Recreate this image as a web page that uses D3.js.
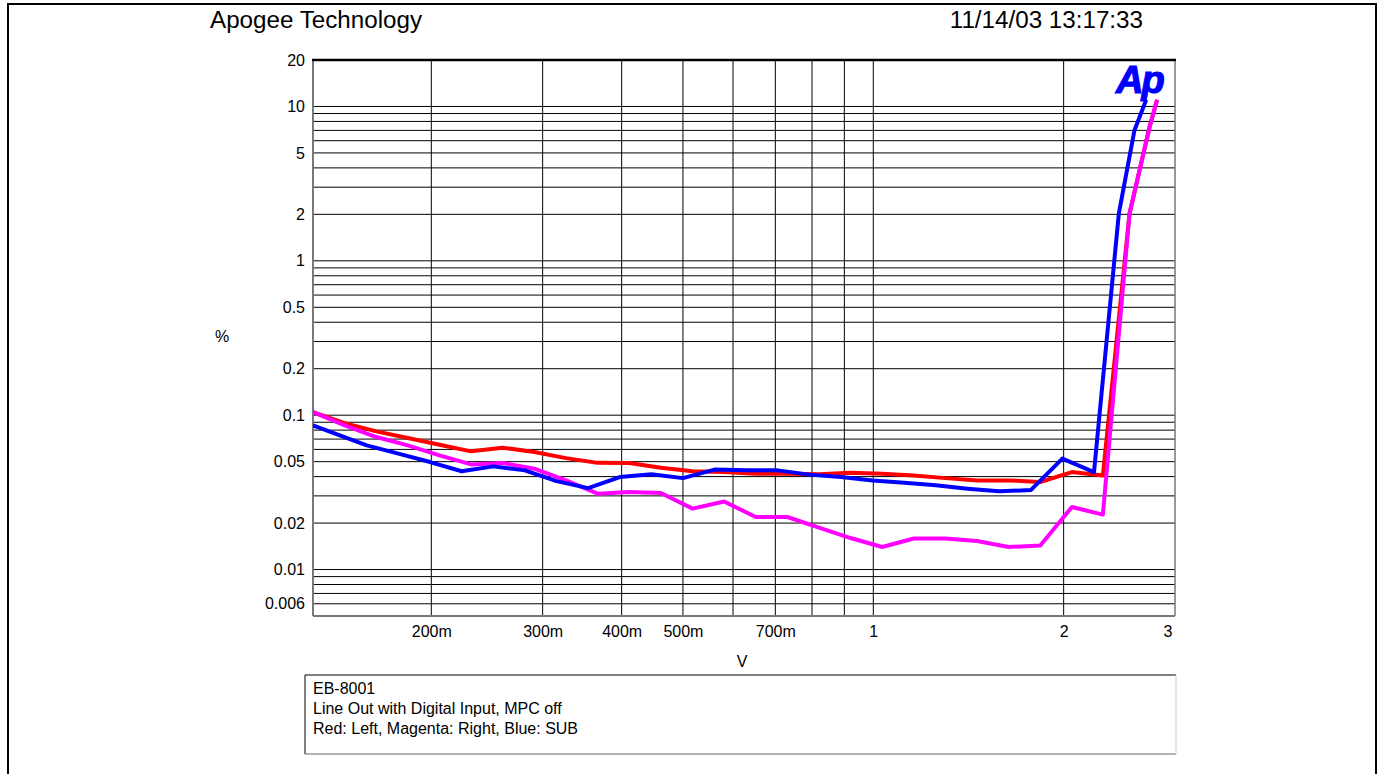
<!DOCTYPE html>
<html><head><meta charset="utf-8">
<script src="https://cdn.jsdelivr.net/npm/d3@7"></script>
<style>
html,body{margin:0;padding:0;background:#fff;}
svg text{font-family:"Liberation Sans",Arial,sans-serif;fill:#000;}
</style></head>
<body>
<svg id="chart" width="1382" height="774"></svg>
<script>
// ---- data ----
const voltsLR = [0.1300,0.1459,0.1637,0.1836,0.2060,0.2312,0.2594,0.2911,0.3266,0.3665,0.4112,0.4614,0.5177,0.5809,0.6518,0.7313,0.8206,0.9207,1.033,1.159,1.301,1.459,1.637,1.837,2.061,2.307,2.542,2.734,2.811];
const leftPct = [0.1047,0.0889,0.0785,0.0711,0.0644,0.0583,0.0616,0.0577,0.0527,0.0491,0.0490,0.0457,0.0433,0.0428,0.0418,0.0418,0.0414,0.0424,0.0418,0.0407,0.0391,0.0378,0.0378,0.0369,0.0428,0.0407,2.02,7.34,11.05];
const rightPct = [0.1047,0.0859,0.0722,0.0637,0.0549,0.0480,0.0490,0.0450,0.0378,0.0310,0.0318,0.0313,0.0248,0.0276,0.0219,0.0219,0.0187,0.0160,0.0140,0.0159,0.0159,0.0153,0.0140,0.0143,0.0254,0.0227,2.02,7.34,11.05];
const voltsSub = [0.1300,0.1409,0.1581,0.1774,0.1991,0.2234,0.2506,0.2812,0.3155,0.3540,0.3972,0.4457,0.5000,0.5610,0.6295,0.7063,0.7925,0.8892,0.9977,1.1195,1.2561,1.4093,1.5813,1.7743,1.9908,2.2337,2.445,2.588,2.701];
const subPct = [0.0859,0.0759,0.0637,0.0563,0.0497,0.0433,0.0466,0.0439,0.0374,0.0337,0.0397,0.0414,0.0391,0.0444,0.0439,0.0439,0.0412,0.0397,0.0378,0.0365,0.0351,0.0334,0.0321,0.0327,0.0523,0.0428,2.02,6.99,11.05];

const xTickValues = [0.2,0.3,0.4,0.5,0.7,1,2,3];
const xTickLabels = ["200m","300m","400m","500m","700m","1","2","3"];
const xGridValues = [0.2,0.3,0.4,0.5,0.6,0.7,0.8,0.9,1,2];
const yTickValues = [20,10,5,2,1,0.5,0.2,0.1,0.05,0.02,0.01,0.006];
const yTickLabels = ["20","10","5","2","1","0.5","0.2","0.1","0.05","0.02","0.01","0.006"];
const yGridValues = [0.006,0.007,0.008,0.009,0.01,0.02,0.03,0.04,0.05,0.06,0.07,0.08,0.09,0.1,0.2,0.3,0.4,0.5,0.6,0.7,0.8,0.9,1,2,3,4,5,6,7,8,9,10];

const title = "Apogee Technology";
const stamp = "11/14/03 13:17:33";
const xLabel = "V";
const yLabel = "%";
const legendLines = ["EB-8001","Line Out with Digital Input, MPC off","Red: Left, Magenta: Right, Blue: SUB"];

// ---- layout ----
const L = 313, R = 1175, T = 60, B = 616;
const FS = "16px";
const svg = d3.select("#chart");

svg.append("rect").attr("x",8).attr("y",4).attr("width",1368).attr("height",800)
  .attr("fill","none").attr("stroke","#000").attr("stroke-width",2);

svg.append("text").attr("x",210).attr("y",28).attr("font-size","24.2px").text(title);
svg.append("text").attr("x",1143).attr("y",28).attr("font-size","24.2px").attr("text-anchor","end").text(stamp);

const x = d3.scaleLog().domain([0.13,3]).range([L,R]);
const y = d3.scaleLog().domain([0.005,20]).range([B,T]);

// grid
const grid = svg.append("g");
grid.selectAll("line.h").data(yGridValues).join("line")
  .attr("x1",L).attr("x2",R).attr("y1",d=>y(d)).attr("y2",d=>y(d))
  .attr("stroke","#000").attr("stroke-width",1);
grid.selectAll("line.v").data(xGridValues).join("line")
  .attr("y1",T).attr("y2",B).attr("x1",d=>x(d)).attr("x2",d=>x(d))
  .attr("stroke","#000").attr("stroke-width",1);

// frame
svg.append("line").attr("x1",L).attr("x2",L).attr("y1",T).attr("y2",B).attr("stroke","#777").attr("stroke-width",2);
svg.append("line").attr("x1",L).attr("x2",R).attr("y1",B).attr("y2",B).attr("stroke","#777").attr("stroke-width",2);
svg.append("line").attr("x1",R).attr("x2",R).attr("y1",T).attr("y2",B).attr("stroke","#777").attr("stroke-width",1.5);
svg.append("line").attr("x1",L-1).attr("x2",R+1).attr("y1",T).attr("y2",T).attr("stroke","#000").attr("stroke-width",2.5);

// axes (labels only)
const xAxis = d3.axisBottom(x).tickValues(xTickValues)
  .tickFormat((d,i)=>xTickLabels[i]).tickSize(0).tickPadding(10);
const gx = svg.append("g").attr("transform",`translate(0,${B})`).call(xAxis);
gx.select(".domain").remove();
gx.selectAll("text").attr("font-size",FS).attr("font-family","Liberation Sans, Arial, sans-serif").attr("fill","#000");
gx.selectAll(".tick").filter(d=>d===3).select("text").attr("text-anchor","end").attr("dx","-3px");

const yAxis = d3.axisLeft(y).tickValues(yTickValues)
  .tickFormat((d,i)=>yTickLabels[i]).tickSize(0).tickPadding(8);
const gy = svg.append("g").attr("transform",`translate(${L},0)`).call(yAxis);
gy.select(".domain").remove();
gy.selectAll("text").attr("font-size",FS).attr("font-family","Liberation Sans, Arial, sans-serif").attr("fill","#000");

svg.append("text").attr("x",742).attr("y",667).attr("font-size",FS).attr("text-anchor","middle").text(xLabel);
svg.append("text").attr("x",222).attr("y",342).attr("font-size",FS).attr("text-anchor","middle").text(yLabel);

// data lines
const line = d3.line().x(d=>x(d[0])).y(d=>y(d[1]));
const series = [
  {v: voltsLR, p: leftPct, c: "#ff0000"},
  {v: voltsLR, p: rightPct, c: "#ff00ff"},
  {v: voltsSub, p: subPct, c: "#0000ff"}
];
svg.append("defs").append("clipPath").attr("id","clip").append("rect")
  .attr("x",L).attr("y",T).attr("width",R-L).attr("height",B-T);
const lg = svg.append("g").attr("clip-path","url(#clip)");
series.forEach(s=>{
  lg.append("path").datum(s.v.map((v,i)=>[v,s.p[i]]))
    .attr("d",line).attr("fill","none").attr("stroke",s.c)
    .attr("stroke-width",4).attr("stroke-linejoin","round");
});

// Ap logo
svg.append("text").attr("x",1116).attr("y",93).attr("font-size","38px").attr("font-weight","bold")
  .attr("font-style","italic").attr("letter-spacing","-2px")
  .attr("stroke","#0000ff").attr("stroke-width",1.2)
  .style("fill","#0000ff").text("Ap");

// legend box
svg.append("line").attr("x1",305).attr("x2",1176).attr("y1",675).attr("y2",675).attr("stroke","#000").attr("stroke-width",1);
svg.append("line").attr("x1",305).attr("x2",305).attr("y1",675).attr("y2",754).attr("stroke","#000").attr("stroke-width",1);
svg.append("line").attr("x1",305).attr("x2",1176).attr("y1",754).attr("y2",754).attr("stroke","#666").attr("stroke-width",1);
svg.append("line").attr("x1",1176).attr("x2",1176).attr("y1",675).attr("y2",754).attr("stroke","#ccc").attr("stroke-width",1);
svg.selectAll("text.leg").data(legendLines).join("text").attr("class","leg")
  .attr("x",313).attr("y",(d,i)=>694+i*20).attr("font-size",FS).text(d=>d);
</script>
</body></html>
